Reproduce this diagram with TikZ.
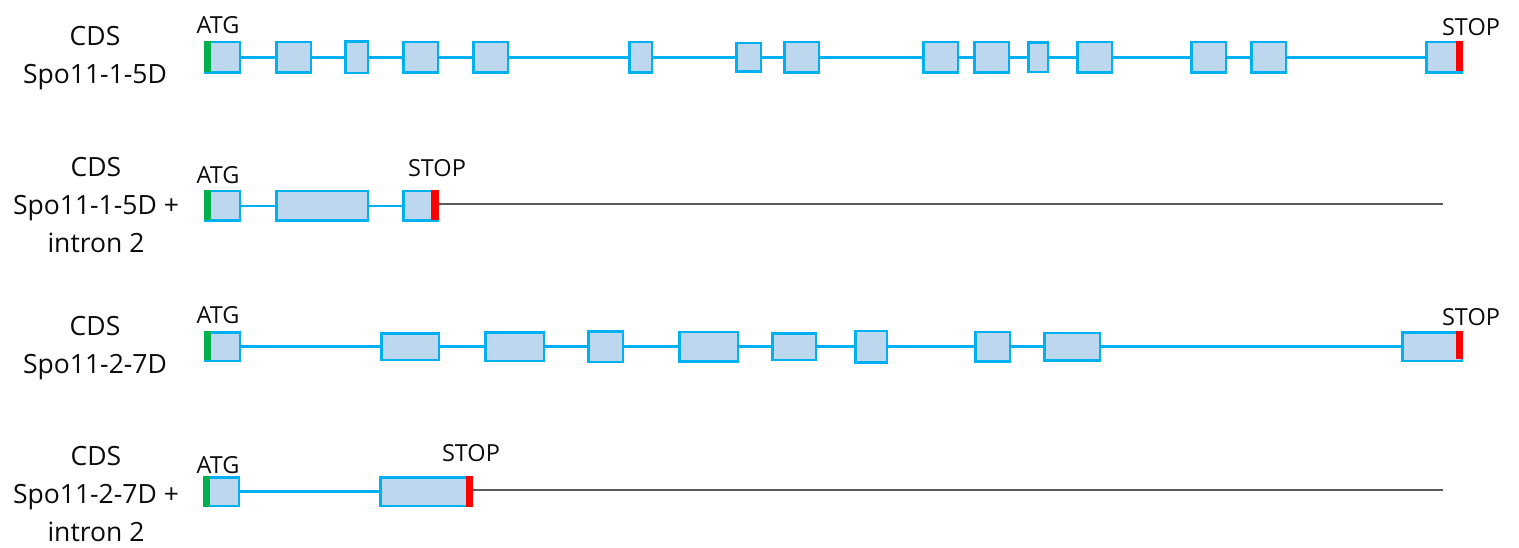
\documentclass[tikz,border=0pt]{standalone}
\usepackage{fontspec}
\setmainfont{Open Sans}
\usetikzlibrary{calc}
\definecolor{exonline}{HTML}{00B0F0}
\definecolor{exonfill}{HTML}{BDD7EE}
\definecolor{startgreen}{HTML}{00B050}
\definecolor{stopred}{HTML}{FF0000}
\definecolor{utrgray}{HTML}{595959}
\definecolor{ink}{HTML}{0B0B0B}
\tikzset{
  every node/.style={text=ink},
  exon/.style={draw=exonline, fill=exonfill, line width=2.5pt, inner sep=0pt, rectangle},
  intron/.style={draw=exonline, line width=2.2pt},
  utr/.style={draw=utrgray, line width=2pt},
  rowlabel/.style={font=\fontsize{26.5}{38}\selectfont, align=center, inner sep=0pt},
  codon/.style={font=\fontsize{23.5}{28}\selectfont, inner sep=0pt},
}

\begin{document}
\begin{tikzpicture}[x=1pt, y=-1pt]
  \useasboundingbox (0,0) rectangle (1519,548);

  % row 1: Spo11-1-5D, 15 exons
  \foreach \xa/\xb/\ya/\yb [count=\i] in {204/241/41/74, 275/312/41/74, 344/369/41/75,
      402/439/41/74, 472/509/41/74, 628/653/41/74, 735/762/43/74, 783/820/41/74,
      922/959/41/74, 973/1010/41/74, 1027/1049/42/74, 1076/1113/41/74,
      1190/1227/41/74, 1250/1287/41/74, 1425/1463/41/74} {
    \pgfmathsetmacro{\w}{\xb-\xa-2.5}
    \pgfmathsetmacro{\h}{\yb-\ya-2.5}
    \node[exon, minimum width=\w pt, minimum height=\h pt] (a\i) at ({(\xa+\xb)/2},57.5) {};
  }
  \foreach \i [evaluate=\i as \j using int(\i+1)] in {1,...,14}
    \draw[intron] (a\i.east) -- (a\i.east -| a\j.west);
  \fill[startgreen] (a1.north west) rectangle ($(a1.south west)+(7,-2)$);
  \fill[stopred] ($(a15.north east)+(-7,0)$) rectangle ($(a15.south east)+(0,-3)$);
  \node[rowlabel] (l1) at (95,58.5) {CDS\\Spo11-1-5D};
  \node[codon] (atg1) at (218,25) {ATG};
  \node[codon] (stop1) at (1471,27) {STOP};

  % row 2: Spo11-1-5D + intron 2
  \foreach \xa/\xb [count=\i] in {204/241, 275/369, 402/439} {
    \pgfmathsetmacro{\w}{\xb-\xa-2.5}
    \node[exon, minimum width=\w pt, minimum height=29.5pt] (b\i) at ({(\xa+\xb)/2},206) {};
  }
  \foreach \i [evaluate=\i as \j using int(\i+1)] in {1,2}
    \draw[intron] (b\i.east) -- (b\i.east -| b\j.west);
  \coordinate (bend) at (1443,204.5);
  \draw[utr] (b3.east |- bend) -- (bend);
  \fill[startgreen] (b1.north west) rectangle ($(b1.south west)+(7,-2)$);
  \fill[stopred] ($(b3.north east)+(-8,0)$) rectangle ($(b3.south east)+(0,-2)$);
  \node[rowlabel] (l2) at (96,205) {CDS\\Spo11-1-5D +\\intron 2};
  \node[codon] (atg2) at (218,175) {ATG};
  \node[codon] (stop2) at (437,168) {STOP};

  % row 3: Spo11-2-7D, 10 exons
  \foreach \xa/\xb/\ya/\yb [count=\i] in {204/241/331/362, 380/440/332/361,
      484/545/331/362, 587/624/331/364, 678/739/332/364, 771/817/332/361,
      854/888/331/365, 974/1011/331/363, 1043/1101/331/361, 1401/1463/331/362} {
    \pgfmathsetmacro{\w}{\xb-\xa-2.5}
    \pgfmathsetmacro{\h}{\yb-\ya-2.5}
    \node[exon, minimum width=\w pt, minimum height=\h pt] (c\i) at ({(\xa+\xb)/2},346.5) {};
  }
  \foreach \i [evaluate=\i as \j using int(\i+1)] in {1,...,9}
    \draw[intron] (c\i.east) -- (c\i.east -| c\j.west);
  \fill[startgreen] (c1.north west) rectangle ($(c1.south west)+(7,-2)$);
  \fill[stopred] ($(c10.north east)+(-7,0)$) rectangle ($(c10.south east)+(0,-3)$);
  \node[rowlabel] (l3) at (95,348.5) {CDS\\Spo11-2-7D};
  \node[codon] (atg3) at (218,315) {ATG};
  \node[codon] (stop3) at (1471,317) {STOP};

  % row 4: Spo11-2-7D + intron 2
  \foreach \xa/\xb [count=\i] in {203/240, 379/473} {
    \pgfmathsetmacro{\w}{\xb-\xa-2.5}
    \node[exon, minimum width=\w pt, minimum height=28.5pt] (d\i) at ({(\xa+\xb)/2},491.5) {};
  }
  \draw[intron] (d1.east) -- (d1.east -| d2.west);
  \coordinate (dend) at (1443,490);
  \draw[utr] (d2.east |- dend) -- (dend);
  \fill[startgreen] (d1.north west) rectangle ($(d1.south west)+(7,0)$);
  \fill[stopred] ($(d2.north east)+(-7,0)$) rectangle ($(d2.south east)+(0,0)$);
  \node[rowlabel] (l4) at (96,494) {CDS\\Spo11-2-7D +\\intron 2};
  \node[codon] (atg4) at (218,465) {ATG};
  \node[codon] (stop4) at (471,453) {STOP};
\end{tikzpicture}
\end{document}
